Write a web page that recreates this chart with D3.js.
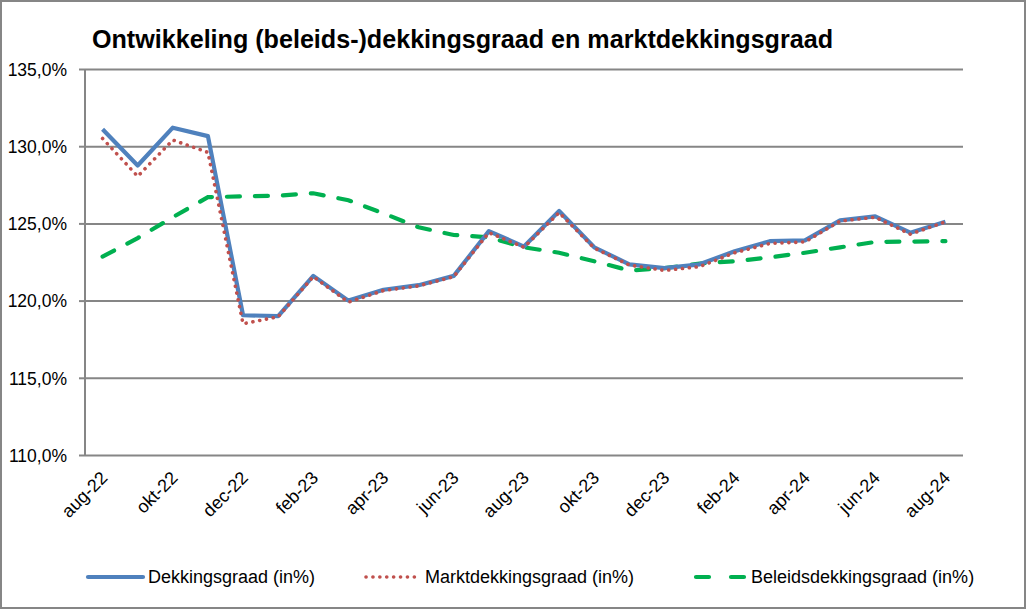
<!DOCTYPE html>
<html><head><meta charset="utf-8">
<script src="https://cdn.jsdelivr.net/npm/d3@7"></script>
<style>
html,body{margin:0;padding:0;background:#fff;}
svg{display:block;}
text{font-family:"Liberation Sans", Arial, sans-serif;fill:#000;}
</style></head>
<body><svg id="c" width="1026" height="609"></svg>
<script>
const months = ["aug-22","sep-22","okt-22","nov-22","dec-22","jan-23","feb-23","mrt-23","apr-23","mei-23","jun-23","jul-23","aug-23","sep-23","okt-23","nov-23","dec-23","jan-24","feb-24","mrt-24","apr-24","mei-24","jun-24","jul-24","aug-24"];
const dekkingsgraad = [131.1,128.75,131.2,130.65,119.05,119.0,121.6,120.0,120.7,121.0,121.6,124.5,123.5,125.8,123.45,122.35,122.1,122.35,123.2,123.85,123.9,125.2,125.45,124.4,125.1];
const marktdekkingsgraad = [130.5,128.05,130.4,129.6,118.5,118.95,121.55,119.9,120.65,120.95,121.55,124.4,123.45,125.7,123.4,122.3,121.95,122.2,123.1,123.7,123.8,125.15,125.4,124.3,125.1];
const beleidsdekkingsgraad = [122.85,124.05,125.4,126.7,126.75,126.8,126.95,126.5,125.65,124.75,124.25,124.1,123.45,123.1,122.55,121.95,122.1,122.4,122.55,122.8,123.1,123.45,123.8,123.82,123.85];
const yTicks = [110,115,120,125,130,135];
const tickLabels = months.filter((d,i)=>i%2===0);
const title = "Ontwikkeling (beleids-)dekkingsgraad en marktdekkingsgraad";
const seriesNames = ["Dekkingsgraad (in%)","Marktdekkingsgraad (in%)","Beleidsdekkingsgraad (in%)"];

(function(){
const svg = d3.select("#c");
const W=1026,H=609;
svg.append("rect").attr("x",1).attr("y",1).attr("width",W-2).attr("height",H-2)
  .attr("fill","#fff").attr("stroke","#868686").attr("stroke-width",2);

const pL=85,pR=963,pT=69,pB=455;
const x = d3.scaleBand().domain(months).range([pL,pR]);
const y = d3.scaleLinear().domain([110,135]).range([pB,pT]);
const fmt = v => d3.format(".1f")(v).replace(".",",")+"%";

svg.append("text").attr("x",92).attr("y",48).attr("font-size",25).attr("font-weight","bold")
  .attr("textLength",741).attr("lengthAdjust","spacingAndGlyphs").text(title);

const gy = svg.append("g").attr("transform",`translate(${pL},0)`)
  .call(d3.axisLeft(y).tickValues(yTicks).tickSize(-(pR-pL)).tickFormat(fmt).tickPadding(18));
gy.select(".domain").remove();
gy.selectAll(".tick line").attr("stroke","#868686").attr("stroke-width",2);
gy.selectAll(".tick text").attr("font-size",17.5).attr("fill","#000").attr("dy","0.36em");
gy.selectAll(".tick").append("line").attr("x1",-6).attr("x2",0).attr("stroke","#868686").attr("stroke-width",2);
svg.append("line").attr("x1",pL).attr("x2",pL).attr("y1",pT).attr("y2",pB).attr("stroke","#868686").attr("stroke-width",2);

const gx = svg.append("g").attr("transform",`translate(0,${pB})`)
  .call(d3.axisBottom(x).tickValues(tickLabels).tickSize(0).tickPadding(0));
gx.select(".domain").remove();
gx.selectAll(".tick text").attr("font-size",18).attr("text-anchor","end").attr("dy",0).attr("y",0)
  .attr("transform","translate(6,24) rotate(-45)");

const cx = d => x(d)+x.bandwidth()/2;
const line = arr => d3.line().x((d,i)=>cx(months[i])).y(d=>y(d))(arr);

svg.append("path").attr("d",line(beleidsdekkingsgraad)).attr("fill","none").attr("stroke","#00B050")
  .attr("stroke-width",4.2).attr("stroke-dasharray","13,15").attr("stroke-linecap","round");
svg.append("path").attr("d",line(dekkingsgraad)).attr("fill","none").attr("stroke","#4F81BD")
  .attr("stroke-width",4.2).attr("stroke-linejoin","round");
svg.append("path").attr("d",line(marktdekkingsgraad)).attr("fill","none").attr("stroke","#C0504D")
  .attr("stroke-width",3.6).attr("stroke-dasharray","0.1,6.8").attr("stroke-linecap","round");

const ly=577;
const leg = [
  {x1:88,x2:143,tx:148,color:"#4F81BD",dash:null,w:4.2,cap:"round"},
  {x1:366,x2:419,tx:425,color:"#C0504D",dash:"0.1,6.8",w:3.6,cap:"round"},
  {x1:696,x2:744,tx:751,color:"#00B050",dash:"13,22",w:4.2,cap:"round"}
];
leg.forEach((l,i)=>{
  const ln = svg.append("line").attr("x1",l.x1).attr("x2",l.x2)
    .attr("y1",ly).attr("y2",ly).attr("stroke",l.color).attr("stroke-width",l.w).attr("stroke-linecap",l.cap);
  if(l.dash) ln.attr("stroke-dasharray",l.dash);
  svg.append("text").attr("x",l.tx).attr("y",ly+6).attr("font-size",18).text(seriesNames[i]);
});
})();
</script></body></html>
